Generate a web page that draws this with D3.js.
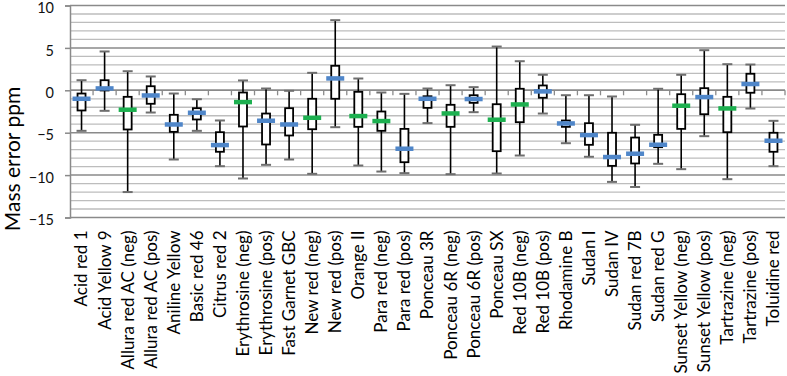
<!DOCTYPE html>
<html><head><meta charset="utf-8">
<script src="https://cdn.jsdelivr.net/npm/d3@7"></script>
<style>body{margin:0;background:#fff}svg{display:block}</style>
</head><body><svg id="c" width="787" height="376"></svg>
<script>
const categories = ["Acid red 1","Acid Yellow 9","Allura red AC (neg)","Allura red AC (pos)","Aniline Yellow","Basic red 46","Citrus red 2","Erythrosine (neg)","Erythrosine (pos)","Fast Garnet GBC","New red (neg)","New red (pos)","Orange II","Para red (neg)","Para red (pos)","Ponceau 3R","Ponceau 6R (neg)","Ponceau 6R (pos)","Ponceau SX","Red 10B (neg)","Red 10B (pos)","Rhodamine B","Sudan I","Sudan IV","Sudan red 7B","Sudan red G","Sunset Yellow (neg)","Sunset Yellow (pos)","Tartrazine (neg)","Tartrazine (pos)","Toluidine red"];
const whiskerMax = [1.19,4.58,2.25,1.63,-0.38,-1.05,-3.56,1.16,0.21,-0.06,2.06,8.27,1.39,-0.26,-0.42,0.21,0.6,0.37,5.16,3.43,1.83,-0.58,-0.58,-0.73,-4.07,0.18,1.83,4.73,3.08,3.04,-3.6];
const boxTop = [-0.38,1.19,-0.77,0.48,-2.89,-2.11,-4.94,-0.26,-2.74,-2.11,-1.0,2.89,-0.18,-2.5,-4.55,-0.7,-1.71,-0.58,-1.64,0.18,0.57,-3.56,-3.88,-5.01,-5.57,-5.25,-0.46,0.25,-0.77,1.95,-5.01];
const boxBottom = [-2.38,-0.02,-4.62,-1.59,-4.9,-3.44,-7.25,-4.27,-6.39,-5.33,-4.59,-1.0,-4.31,-4.78,-8.48,-2.07,-4.31,-1.48,-7.18,-3.76,-0.88,-4.31,-6.43,-8.91,-8.63,-6.71,-4.55,-2.82,-4.94,-0.29,-7.25];
const whiskerMin = [-4.78,-2.42,-12.0,-2.62,-8.16,-4.78,-8.95,-10.4,-8.79,-8.16,-9.85,-4.35,-8.87,-9.58,-9.77,-3.87,-9.89,-2.58,-9.81,-7.69,-2.74,-6.24,-7.84,-10.8,-11.4,-8.67,-9.3,-5.41,-10.48,-2.15,-8.95];
const meanVal = [-0.97,0.25,-2.26,-0.58,-4.0,-2.62,-6.43,-1.36,-3.56,-4.0,-3.21,1.43,-3.01,-3.6,-6.86,-0.97,-2.7,-1.0,-3.44,-1.64,-0.1,-3.88,-5.25,-7.84,-7.45,-6.39,-1.79,-0.77,-2.11,0.77,-5.92];
const meanGroup = ["b","b","g","b","b","b","b","g","b","b","g","b","g","g","b","b","g","b","g","g","b","b","b","b","b","b","g","b","g","b","b"];
const yTicks = [10,5,0,-5,-10,-15];
const yTitle = "Mass error ppm";

const svg = d3.select("#c");
const m = {l:70, r:2, t:5.5, b:158.5};
const W = 787, H = 376;
const x = d3.scaleBand().domain(categories).range([m.l, W - m.r]).padding(0);
const y = d3.scaleLinear().domain([-15, 10]).range([H - m.b, m.t]);
const font = "Lato, 'Open Sans', sans-serif";

// gridlines
const minor = d3.range(-15, 10.5, 1);
svg.append("g").selectAll("line").data(minor).join("line")
  .attr("x1", m.l).attr("x2", W - m.r)
  .attr("y1", d => y(d)).attr("y2", d => y(d))
  .attr("stroke", d => d % 5 === 0 ? "#8a8a8a" : "#bdbdbd")
  .attr("stroke-width", d => d % 5 === 0 ? 1.5 : 1.3);

// y axis
const ya = svg.append("g").attr("transform", `translate(${m.l},0)`)
  .call(d3.axisLeft(y).tickValues(yTicks).tickSize(5).tickPadding(11));
ya.select(".domain").attr("stroke", "#8a8a8a").attr("stroke-width", 1.5);
ya.selectAll(".tick line").attr("stroke", "#8a8a8a").attr("stroke-width", 1.5);
ya.selectAll("text").attr("font-family", font).attr("font-size", 14.5).attr("fill", "#111").attr("dy", "0.5em");

// zero axis with ticks at category boundaries
svg.append("line").attr("x1", m.l).attr("x2", W - m.r).attr("y1", y(0)).attr("y2", y(0))
  .attr("stroke", "#8a8a8a").attr("stroke-width", 1.5);
svg.append("g").selectAll("line").data(categories.slice(1).concat(["__end"])).join("line")
  .attr("x1", d => d === "__end" ? W - m.r : x(d)).attr("x2", d => d === "__end" ? W - m.r : x(d))
  .attr("y1", y(0)).attr("y2", y(0) + 5)
  .attr("stroke", "#8a8a8a").attr("stroke-width", 1.3);

// x labels
const xa = svg.append("g").attr("transform", `translate(0,${y(-15)})`)
  .call(d3.axisBottom(x).tickSize(0).tickPadding(0));
xa.select(".domain").remove();
xa.selectAll("text")
  .attr("font-family", font).attr("font-size", 17).attr("fill", "#000")
  .attr("text-anchor", "end").attr("dy", "0.35em")
  .attr("transform", "translate(0,13) rotate(-90)").attr("x", 0).attr("y", 0);

// y title
svg.append("text").attr("transform", `translate(13,159) rotate(-90)`)
  .attr("text-anchor", "middle").attr("dy", "0.35em")
  .attr("font-family", font).attr("font-size", 21).attr("fill", "#000").text(yTitle);

// boxes
const data = categories.map((c, i) => ({c, hi: whiskerMax[i], q3: boxTop[i], q1: boxBottom[i], lo: whiskerMin[i], mean: meanVal[i], g: meanGroup[i]}));
const g = svg.append("g");
const cx = d => x(d.c) + x.bandwidth() / 2;
g.selectAll("line.wh").data(data).join("line").attr("class", "wh")
  .attr("x1", cx).attr("x2", cx).attr("y1", d => y(d.hi)).attr("y2", d => y(d.lo))
  .attr("stroke", "#000").attr("stroke-width", 1.6);
["hi", "lo"].forEach(k => {
  g.selectAll("line.cap" + k).data(data).join("line").attr("class", "cap" + k)
    .attr("x1", d => cx(d) - 5).attr("x2", d => cx(d) + 5)
    .attr("y1", d => y(d[k])).attr("y2", d => y(d[k]))
    .attr("stroke", "#6e6e6e").attr("stroke-width", 2);
});
g.selectAll("rect.box").data(data).join("rect").attr("class", "box")
  .attr("x", d => cx(d) - 4).attr("width", 8)
  .attr("y", d => y(d.q3)).attr("height", d => y(d.q1) - y(d.q3))
  .attr("fill", "#fff").attr("stroke", "#000").attr("stroke-width", 1.8);
g.selectAll("rect.mean").data(data).join("rect").attr("class", "mean")
  .attr("x", d => cx(d) - 9).attr("width", 18)
  .attr("y", d => y(d.mean) - 2).attr("height", 4.5)
  .attr("fill", d => d.g === "g" ? "#1db050" : "#4f86c9");
</script></body></html>
